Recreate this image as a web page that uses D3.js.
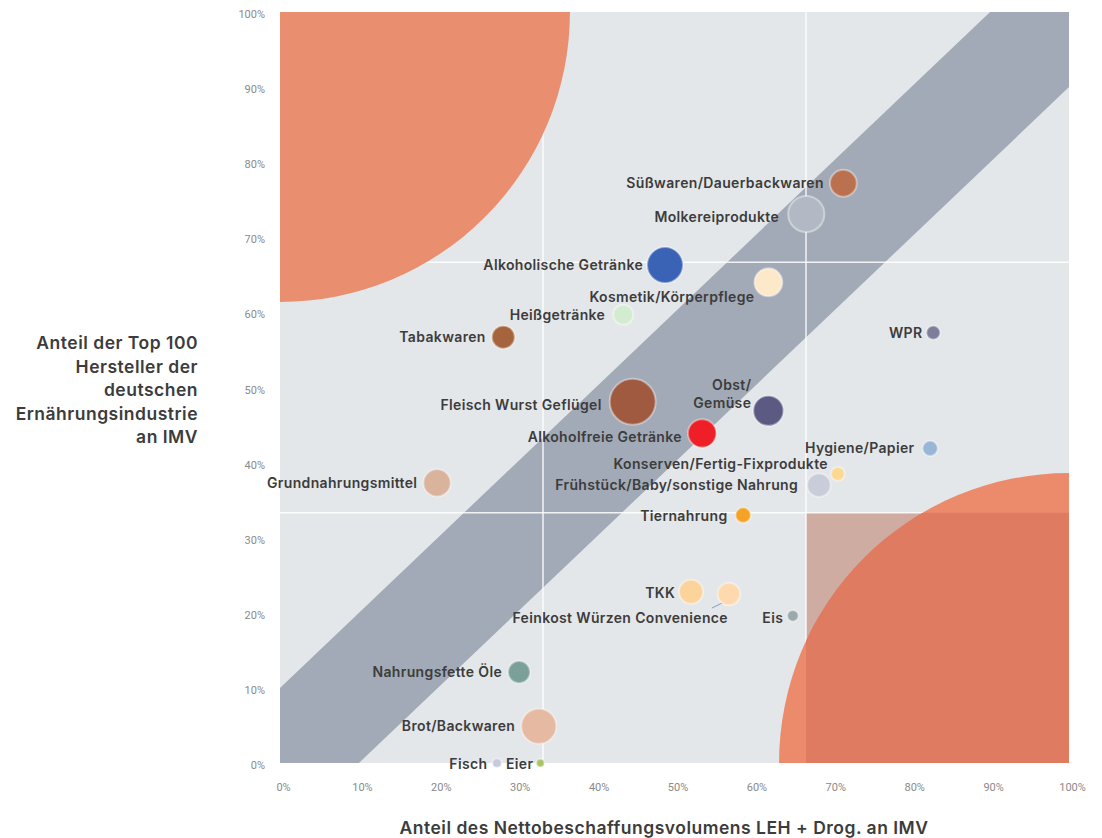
<!DOCTYPE html>
<html lang="de">
<head>
<meta charset="utf-8">
<script src="https://cdn.jsdelivr.net/npm/d3@7"></script>
<style>
  html, body { margin: 0; padding: 0; background: #ffffff; }
  svg { display: block; }
  .tick text { font-family: Roboto, "Liberation Sans", sans-serif; font-size: 11px; fill: #8a8a8a; }
  .lbl { font-family: Inter, Roboto, sans-serif; font-weight: 600; font-size: 14px; letter-spacing: 0.35px; fill: #3c3c3c; }
  .title { font-family: Inter, Roboto, sans-serif; font-weight: 600; font-size: 17.5px; letter-spacing: 0.5px; fill: #3c3c3c; }
</style>
</head>
<body>
<svg id="chart" width="1102" height="838"></svg>
<script>
// Warengruppen: Anteil LEH + Drogerie am Nettobeschaffungsvolumen (x)
// vs. Anteil der Top-100-Hersteller (y); Kreisgröße = relatives Volumen
const categories = [
  "Süßwaren/Dauerbackwaren", "Molkereiprodukte", "Alkoholische Getränke",
  "Kosmetik/Körperpflege", "Heißgetränke", "WPR", "Tabakwaren",
  "Fleisch Wurst Geflügel", "Obst/\nGemüse", "Alkoholfreie Getränke",
  "Hygiene/Papier", "Konserven/Fertig-Fixprodukte",
  "Frühstück/Baby/sonstige Nahrung", "Tiernahrung", "Grundnahrungsmittel",
  "TKK", "Feinkost Würzen Convenience", "Eis", "Nahrungsfette Öle",
  "Brot/Backwaren", "Fisch", "Eier"
];
const shareRetail = [
  0.714, 0.667, 0.488, 0.619, 0.435, 0.828, 0.283, 0.447, 0.619, 0.535,
  0.824, 0.707, 0.683, 0.587, 0.199, 0.521, 0.569, 0.650, 0.303, 0.328,
  0.275, 0.330
];
const shareTop100 = [
  0.772, 0.731, 0.663, 0.640, 0.597, 0.573, 0.567, 0.481, 0.469, 0.439,
  0.419, 0.385, 0.370, 0.330, 0.373, 0.228, 0.225, 0.196, 0.121, 0.049,
  0.000, 0.000
];
const volume = [
  34, 62, 61, 37, 19, 9, 25, 100, 43, 38,
  11, 9, 26, 11, 35, 27, 24, 6, 23, 58,
  4, 3
];
const colors = [
  "#b9714f", "#b3b9c4", "#3b63b5", "#fde8c9", "#d3ecd0", "#7c7e9a", "#a5643c",
  "#9f5a40", "#5b5a82", "#ee1f26", "#9ab6d6", "#fcd892", "#c9cdd9", "#f4a327",
  "#d9b39c", "#fcd39a", "#fdd9ad", "#9aa9ab", "#7b9f99", "#e6b9a2", "#c6cadb",
  "#a9c462"
];
const xTicks = [0, 0.1, 0.2, 0.3, 0.4, 0.5, 0.6, 0.7, 0.8, 0.9, 1];
const yTicks = [0, 0.1, 0.2, 0.3, 0.4, 0.5, 0.6, 0.7, 0.8, 0.9, 1];
const xTitle = "Anteil des Nettobeschaffungsvolumens LEH + Drog. an IMV";
const yTitle = ["Anteil der Top 100", "Hersteller der", "deutschen", "Ernährungsindustrie", "an IMV"];

// Matrix-Geometrie in Datenanteilen
const thirds = [1 / 3, 2 / 3];
const bandHalfWidth = 0.1;
const zoneRadius = 0.3675;

// Label-Platzierung (Ausnahmen vom Standard "links neben dem Kreis")
const labelPlacement = {
  "Kosmetik/Körperpflege": { dx: -14, dy: 15, fromCenter: true },
  "Obst/\nGemüse": { dx: -2, dy: -26 },
  "Konserven/Fertig-Fixprodukte": { dx: -3, dy: -10 },
  "Feinkost Würzen Convenience": { dx: -1, dy: 24, fromCenter: true, leader: true },
  "Molkereiprodukte": { dx: -9, dy: 3 },
  "Frühstück/Baby/sonstige Nahrung": { dx: -9, dy: 0 },
  "Alkoholfreie Getränke": { dx: -6, dy: 4 },
  "Heißgetränke": { dx: -8, dy: 0 },
  "Fleisch Wurst Geflügel": { dx: -8, dy: 3 },
  "Hygiene/Papier": { dx: -8, dy: 0 },
  "Tiernahrung": { dx: -8, dy: 1 },
  "Eier": { dx: -3, dy: 1 },
  "Fisch": { dx: -5, dy: 1 },
  "Eis": { dx: -4, dy: 2 },
  "TKK": { dx: -4, dy: 1 },
  "Alkoholische Getränke": { dx: -4, dy: 0 },
  "WPR": { dx: -4, dy: 0 }
};

const svg = d3.select("#chart");
const plot = { left: 280, right: 1069, top: 12, bottom: 763 };

const x = d3.scaleLinear().domain([0, 1]).range([plot.left, plot.right]);
const y = d3.scaleLinear().domain([0, 1]).range([plot.bottom, plot.top]);
const r = d3.scaleSqrt().domain([0, 100]).range([0, 23]);

const defs = svg.append("defs");
defs.append("clipPath").attr("id", "plotClip")
  .append("rect")
  .attr("x", plot.left).attr("y", plot.top)
  .attr("width", plot.right - plot.left).attr("height", plot.bottom - plot.top);
defs.append("clipPath").attr("id", "lowRightClip")
  .append("rect")
  .attr("x", x(thirds[1])).attr("y", y(thirds[0]))
  .attr("width", x(1) - x(thirds[1])).attr("height", y(0) - y(thirds[0]));

const bg = svg.append("g").attr("clip-path", "url(#plotClip)");

// Hintergrund
bg.append("rect")
  .attr("x", plot.left).attr("y", plot.top)
  .attr("width", plot.right - plot.left).attr("height", plot.bottom - plot.top)
  .attr("fill", "#e4e7ea");

// Diagonales Band |y - x| <= bandHalfWidth
const bandPts = [
  [0, 0], [0, bandHalfWidth], [1 - bandHalfWidth, 1], [1, 1],
  [1, 1 - bandHalfWidth], [bandHalfWidth, 0]
];
bg.append("path")
  .attr("d", d3.line().x(d => x(d[0])).y(d => y(d[1]))(bandPts) + "Z")
  .attr("fill", "#a1aab6");

// Unteres rechtes Feld
bg.append("rect")
  .attr("x", x(thirds[1])).attr("y", y(thirds[0]))
  .attr("width", x(1) - x(thirds[1])).attr("height", y(0) - y(thirds[0]))
  .attr("fill", "#cfaca2");

// Drittel-Linien
bg.selectAll("line.vgrid").data(thirds).join("line")
  .attr("class", "vgrid")
  .attr("x1", d => x(d)).attr("x2", d => x(d))
  .attr("y1", plot.top).attr("y2", plot.bottom)
  .attr("stroke", "#ffffff").attr("stroke-opacity", 0.85).attr("stroke-width", 1.5);
bg.selectAll("line.hgrid").data(thirds).join("line")
  .attr("class", "hgrid")
  .attr("x1", plot.left).attr("x2", plot.right)
  .attr("y1", d => y(d)).attr("y2", d => y(d))
  .attr("stroke", "#ffffff").attr("stroke-opacity", 0.85).attr("stroke-width", 1.5);

// Viertelkreise in den Ecken
const R = x(zoneRadius) - x(0);
const tlx = x(0), tly = y(1);
bg.append("path")
  .attr("d", `M${tlx},${tly}L${tlx + R},${tly}A${R},${R} 0 0 1 ${tlx},${tly + R}Z`)
  .attr("fill", "#e98f6f");
const brx = x(1), bry = y(0);
const brPath = `M${brx},${bry}L${brx - R},${bry}A${R},${R} 0 0 1 ${brx},${bry - R}Z`;
bg.append("path").attr("d", brPath).attr("fill", "#eb8b6c");
bg.append("path").attr("d", brPath).attr("fill", "#de7b61")
  .attr("clip-path", "url(#lowRightClip)");

// Achsen
const xAxis = svg.append("g")
  .attr("transform", `translate(3,${plot.bottom})`)
  .call(d3.axisBottom(x).tickValues(xTicks).tickFormat(d3.format(".0%")).tickSize(0).tickPadding(20));
xAxis.select(".domain").remove();

const yAxis = svg.append("g")
  .attr("transform", `translate(${plot.left},2)`)
  .call(d3.axisLeft(y).tickValues(yTicks).tickFormat(d3.format(".0%")).tickSize(0).tickPadding(15));
yAxis.select(".domain").remove();

// Datenpunkte
const rows = categories.map((c, i) => ({
  name: c, xv: shareRetail[i], yv: shareTop100[i], v: volume[i], color: colors[i]
}));

const leaderLayer = svg.append("g");
svg.append("g").selectAll("circle").data(rows).join("circle")
  .attr("cx", d => x(d.xv))
  .attr("cy", d => y(d.yv))
  .attr("r", d => r(d.v))
  .attr("fill", d => d.color)
  .attr("stroke", "#ffffff")
  .attr("stroke-opacity", 0.4)
  .attr("stroke-width", 2);

const labels = svg.append("g");
rows.forEach(d => {
  const p = labelPlacement[d.name] || { dx: -6, dy: 0 };
  const cx = x(d.xv), cy = y(d.yv), rad = r(d.v);
  const tx = p.fromCenter ? cx + p.dx : cx - rad + p.dx;
  const ty = cy + p.dy;
  const lines = d.name.split("\n");
  const t = labels.append("text")
    .attr("class", "lbl")
    .attr("text-anchor", "end")
    .attr("x", tx).attr("y", ty);
  lines.forEach((ln, k) => {
    t.append("tspan").attr("x", tx).attr("dy", k === 0 ? "0.36em" : "1.3em").text(ln);
  });
  if (p.leader) {
    leaderLayer.append("line")
      .attr("x1", tx - 16).attr("y1", ty - 10)
      .attr("x2", cx - rad * 0.5).attr("y2", cy + rad * 0.75)
      .attr("stroke", "#7f9fc2").attr("stroke-width", 1);
  }
});

// Achsentitel
svg.append("text").attr("class", "title")
  .attr("text-anchor", "middle")
  .attr("x", 664).attr("y", 834)
  .text(xTitle);

const yt = svg.append("text").attr("class", "title").attr("text-anchor", "end");
yTitle.forEach((ln, k) => {
  yt.append("tspan").attr("x", 198).attr("y", 349 + k * 23.5).text(ln);
});
</script>
</body>
</html>
